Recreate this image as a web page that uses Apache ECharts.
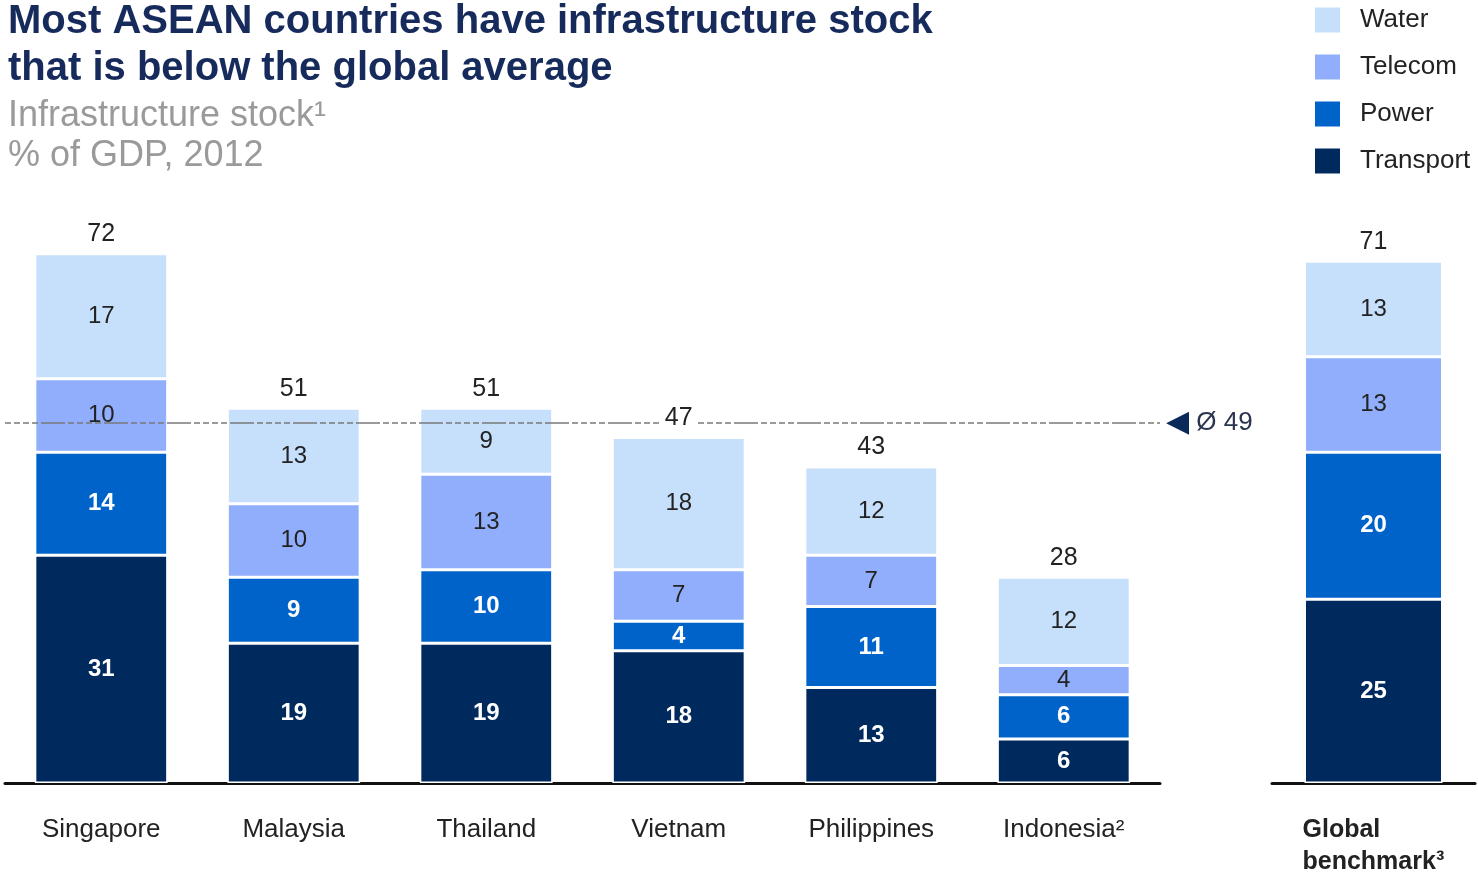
<!DOCTYPE html>
<html>
<head>
<meta charset="utf-8">
<style>
  html, body { margin: 0; padding: 0; background: #ffffff; }
  #chart { width: 1478px; height: 872px; }
</style>
<script src="https://cdn.jsdelivr.net/npm/echarts@6/dist/echarts.min.js"></script>
</head>
<body>
<div id="chart"></div>
<script>
// Infrastructure stock by segment, % of GDP (2012)
const countries = ['Singapore', 'Malaysia', 'Thailand', 'Vietnam', 'Philippines', 'Indonesia²'];
const transport = [31, 19, 19, 18, 13, 6];
const power     = [14, 9, 10, 4, 11, 6];
const telecom   = [10, 10, 13, 7, 7, 4];
const water     = [17, 13, 9, 18, 12, 12];

const benchmarkLabel = ['Global benchmark³'];
const benchTransport = [25];
const benchPower     = [20];
const benchTelecom   = [13];
const benchWater     = [13];

const aseanAverage = 49;

const COLORS = {
  Water: '#c6dffa',
  Telecom: '#90aefc',
  Power: '#0063c9',
  Transport: '#002a5e'
};
const FONT = '"Liberation Sans", Arial, sans-serif';

function sumAll(...arrs) {
  return arrs[0].map((_, i) => arrs.reduce((s, a) => s + a[i], 0));
}
const totals = sumAll(transport, power, telecom, water);
const benchTotals = sumAll(benchTransport, benchPower, benchTelecom, benchWater);

function segment(name, data, stack, axisIndex, width, light) {
  return {
    name: name,
    type: 'bar',
    stack: stack,
    xAxisIndex: axisIndex,
    yAxisIndex: axisIndex,
    barWidth: width,
    data: data,
    itemStyle: { color: COLORS[name], borderColor: '#ffffff', borderWidth: 1.5 },
    label: {
      show: true,
      position: 'inside',
      fontFamily: FONT,
      fontSize: 24,
      fontWeight: light ? 'normal' : 'bold',
      color: light ? '#222222' : '#ffffff'
    }
  };
}

function totalSeries(sums, stack, axisIndex, width) {
  return {
    name: 'Total',
    type: 'bar',
    stack: stack,
    xAxisIndex: axisIndex,
    yAxisIndex: axisIndex,
    barWidth: width,
    data: sums.map(() => 0),
    itemStyle: { color: 'rgba(0,0,0,0)', borderWidth: 0 },
    label: {
      show: true,
      position: 'top',
      distance: 7,
      fontFamily: FONT,
      fontSize: 25,
      color: '#222222',
      backgroundColor: '#ffffff',
      padding: [0, 3],
      formatter: p => String(sums[p.dataIndex])
    },
    z: 5
  };
}

const transportSeries = segment('Transport', transport, 'asean', 0, '69%', false);
transportSeries.markLine = {
  silent: true,
  symbol: 'none',
  lineStyle: { color: '#7a7a7a', width: 1.5, type: [6, 3, 6, 3, 6, 3, 6, 3, 24, 3] },
  label: {
    show: true,
    position: 'end',
    distance: 6,
    formatter: '{tri|◀}{v| Ø ' + aseanAverage + '}',
    rich: {
      tri: { fontFamily: '"DejaVu Sans", sans-serif', fontSize: 30, color: '#0b2a5a' },
      v: { fontFamily: FONT, fontSize: 26, color: '#2a3550' }
    }
  },
  data: [{ yAxis: aseanAverage }]
};

const baseAxisLine = { onZero: false, lineStyle: { color: '#111111', width: 3 } };

const option = {
  animation: false,
  title: [
    {
      text: 'Most ASEAN countries have infrastructure stock\nthat is below the global average',
      left: 8,
      top: -2,
      padding: 0,
      textStyle: { fontFamily: FONT, fontSize: 40, fontWeight: 'bold', color: '#162b5c', lineHeight: 47 }
    },
    {
      text: 'Infrastructure stock¹\n% of GDP, 2012',
      left: 8,
      top: 96,
      padding: 0,
      textStyle: { fontFamily: FONT, fontSize: 36, fontWeight: 'normal', color: '#9a9a9a', lineHeight: 40 }
    }
  ],
  legend: {
    orient: 'vertical',
    left: 1315,
    top: 7,
    padding: 0,
    itemWidth: 25,
    itemHeight: 25,
    itemGap: 21,
    icon: 'rect',
    selectedMode: false,
    itemStyle: { borderWidth: 0 },
    data: ['Water', 'Telecom', 'Power', 'Transport'],
    textStyle: { fontFamily: FONT, fontSize: 26, lineHeight: 25, color: '#222222', padding: [0, 0, 0, 15] }
  },
  grid: [
    { left: 5, right: 318, top: 195, height: 588, outerBoundsMode: 'none' },
    { left: 1272, right: 3, top: 195, height: 588, outerBoundsMode: 'none' }
  ],
  xAxis: [
    {
      type: 'category',
      gridIndex: 0,
      data: countries,
      axisTick: { show: false },
      axisLine: baseAxisLine,
      axisLabel: { fontFamily: FONT, fontSize: 26, color: '#222222', margin: 34 }
    },
    {
      type: 'category',
      gridIndex: 1,
      data: benchmarkLabel,
      axisTick: { show: false },
      axisLine: baseAxisLine,
      axisLabel: {
        fontFamily: FONT,
        margin: 31,
        formatter: v => v.split(' ').map(w => '{b|' + w + '}').join('\n'),
        rich: {
          b: { fontFamily: FONT, fontSize: 25, fontWeight: 'bold', color: '#222222', width: 142, align: 'left', lineHeight: 32 }
        }
      }
    }
  ],
  yAxis: [
    { type: 'value', gridIndex: 0, min: 0, max: 80, show: false },
    { type: 'value', gridIndex: 1, min: 0, max: 80, show: false }
  ],
  series: [
    transportSeries,
    segment('Power', power, 'asean', 0, '69%', false),
    segment('Telecom', telecom, 'asean', 0, '69%', true),
    segment('Water', water, 'asean', 0, '69%', true),
    totalSeries(totals, 'asean', 0, '69%'),
    segment('Transport', benchTransport, 'bench', 1, 138, false),
    segment('Power', benchPower, 'bench', 1, 138, false),
    segment('Telecom', benchTelecom, 'bench', 1, 138, true),
    segment('Water', benchWater, 'bench', 1, 138, true),
    totalSeries(benchTotals, 'bench', 1, 138)
  ]
};

const chart = echarts.init(document.getElementById('chart'), null, { renderer: 'canvas' });
chart.setOption(option);
</script>
</body>
</html>
